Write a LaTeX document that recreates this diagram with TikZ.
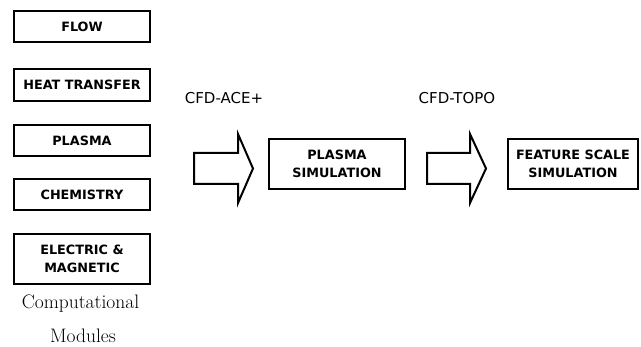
\documentclass[tikz,border=0pt]{standalone}
\usepackage{fontspec}
\setsansfont{DejaVu Sans}
\begin{document}
\begin{tikzpicture}[x=1pt,y=-1pt,
  modbox/.style={draw,line width=2pt,rectangle,inner sep=0pt,align=center,
    font=\sffamily\bfseries\fontsize{12.8}{17.5}\selectfont},
  bigarrow/.style={draw,line width=2pt,fill=white,line join=miter},
  tool/.style={font=\sffamily\fontsize{15}{17}\selectfont,inner sep=0pt},
  caption/.style={font=\fontsize{19.5}{22}\selectfont,inner sep=0pt,anchor=base}]
\useasboundingbox (0,0) rectangle (641,347);
\node[modbox,minimum width=136pt,minimum height=31pt] (flow) at (82,26.5) {FLOW};
\node[modbox,minimum width=136pt,minimum height=32pt] (heat) at (82,85) {HEAT TRANSFER};
\node[modbox,minimum width=136pt,minimum height=31pt] (plasma) at (82,140.5) {PLASMA};
\node[modbox,minimum width=136pt,minimum height=31pt] (chem) at (82,194.5) {CHEMISTRY};
\node[modbox,minimum width=136pt,minimum height=50pt] (elec) at (82,259) {ELECTRIC \&\\MAGNETIC};
\node[caption] (comp) at (80.5,309) {Computational};
\node[caption] (mods) at (83,343) {Modules};
\node[tool] (ace) at (224,98) {CFD-ACE+};
\node[tool] (topo) at (457,98) {CFD-TOPO};
\draw[bigarrow] (194,153) -- (238,153) -- (238,134) -- (253,168.5) -- (238,203) -- (238,184) -- (194,184) -- cycle;
\node[modbox,minimum width=136pt,minimum height=50pt] (psim) at (337,164) {PLASMA\\SIMULATION};
\draw[bigarrow] (427,153) -- (470,153) -- (470,134) -- (486,168.5) -- (470,203) -- (470,184) -- (427,184) -- cycle;
\node[modbox,minimum width=130pt,minimum height=50pt] (fsim) at (573,164) {FEATURE SCALE\\SIMULATION};
\end{tikzpicture}
\end{document}
